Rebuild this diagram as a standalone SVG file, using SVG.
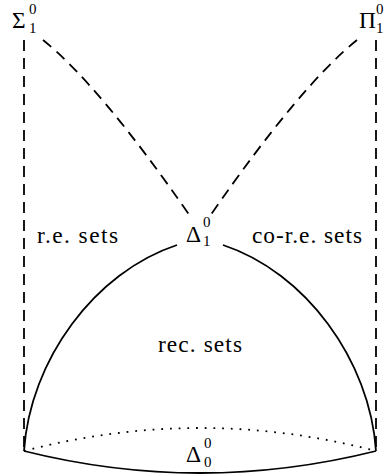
<svg xmlns="http://www.w3.org/2000/svg" width="388" height="474" viewBox="0 0 388 474">
<style>
.ln{fill:none;stroke:#000;stroke-width:1.8}
.dash{stroke-dasharray:11 7}
.dot{stroke-dasharray:1.8 6.9}
text{fill:#000}
.t{font-size:23.4px}
.s{font-size:15px}
</style>
<rect width="388" height="474" fill="#fff"/>
<g id="connectors">
<path class="ln dash" d="M24,40 L24,451"/>
<path class="ln dash" d="M376,40 L376,451"/>
<path class="ln dash" d="M43,40 Q100,86 190,216"/>
<path class="ln dash" d="M357,40 Q300,86 210,216"/>
<path class="ln" d="M24,451 C30,360 95,272 177,245"/>
<path class="ln" d="M376,451 C370,360 305,272 223,245"/>
<path class="ln" d="M24,451 Q200,495 376,451"/>
<path class="ln dot" d="M24,451 Q200,405 376,451"/>
</g>
<g font-family="Liberation Serif, DejaVu Serif, serif">
<g id="sigma">
<text class="t" x="12" y="28">Σ</text>
<text class="s" x="29" y="14">0</text>
<text class="s" x="29" y="33">1</text>
</g>
<g id="pi">
<text class="t" x="359" y="28">Π</text>
<text class="s" x="376" y="14">0</text>
<text class="s" x="376" y="33">1</text>
</g>
<g id="delta1">
<text class="t" x="186" y="242">Δ</text>
<text class="s" x="203" y="227">0</text>
<text class="s" x="203" y="246">1</text>
</g>
<g id="re">
<text class="t" x="37" y="243" textLength="81" lengthAdjust="spacing">r.e. sets</text>
</g>
<g id="core">
<text class="t" x="252" y="243" textLength="110" lengthAdjust="spacing">co-r.e. sets</text>
</g>
<g id="rec">
<text class="t" x="158" y="352" textLength="84" lengthAdjust="spacing">rec. sets</text>
</g>
<g id="delta0">
<text class="t" x="186" y="462">Δ</text>
<text class="s" x="204" y="448">0</text>
<text class="s" x="204" y="467">0</text>
</g>
</g>
</svg>
